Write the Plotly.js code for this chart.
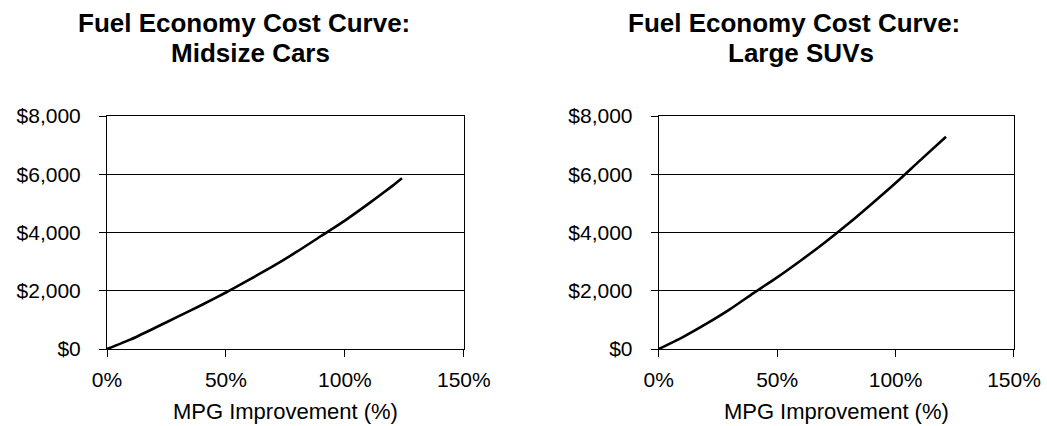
<!DOCTYPE html>
<html>
<head>
<meta charset="utf-8">
<script src="https://cdn.plot.ly/plotly-3.0.1.min.js"></script>
<style>html,body{margin:0;padding:0;background:#fff;}#chart{width:1047px;height:426px;}</style>
</head>
<body>
<div id="chart"></div>
<script>
// MPG improvement (%) and incremental cost ($)
var midsizeX = [0, 10, 20, 30, 40, 50, 60, 70, 80, 90, 100, 110, 120, 124];
var midsizeY = [0, 330, 720, 1120, 1520, 1940, 2390, 2850, 3350, 3880, 4410, 4990, 5600, 5860];
var suvX = [0, 10, 20, 30, 40, 50, 60, 70, 80, 90, 100, 110, 121.3];
var suvY = [0, 400, 860, 1360, 1920, 2460, 3040, 3650, 4300, 4990, 5700, 6450, 7290];
var xTicks = [0, 50, 100, 150];
var xTickLabels = ["0%", "50%", "100%", "150%"];
var yTicks = [0, 2000, 4000, 6000, 8000];
var yTickLabels = ["$0", "$2,000", "$4,000", "$6,000", "$8,000"];
var titleLine1 = "Fuel Economy Cost Curve:";
var titleLeft2 = "Midsize Cars";
var titleRight2 = "Large SUVs";
var xTitle = "MPG Improvement (%)";

var FONT = "Liberation Sans, Arial, sans-serif";

function xAxis(domain) {
  return {
    domain: domain, range: [0, 150], tickmode: "array", tickvals: xTicks, ticktext: xTickLabels,
    showgrid: false, zeroline: false, showline: true, linecolor: "#000", linewidth: 1,
    mirror: true, ticks: "outside", ticklen: 7, tickcolor: "#000", tickwidth: 1,
    ticklabelstandoff: 5,
    tickfont: {family: FONT, size: 21, color: "#000"},
    title: {text: xTitle, font: {family: FONT, size: 22, color: "#000"}, standoff: 13},
    fixedrange: true
  };
}
function yAxis(anchor) {
  return {
    anchor: anchor, range: [0, 8000], tickmode: "array", tickvals: yTicks, ticktext: yTickLabels,
    showgrid: true, gridcolor: "#000", gridwidth: 1, zeroline: false,
    showline: true, linecolor: "#000", linewidth: 1, mirror: true,
    ticks: "outside", ticklen: 7, tickcolor: "#000", tickwidth: 1,
    ticklabelstandoff: 14,
    tickfont: {family: FONT, size: 21, color: "#000"},
    fixedrange: true
  };
}

var lineStyle = {color: "#000", width: 2.6, shape: "spline", smoothing: 0.6};
var traces = [
  {x: midsizeX, y: midsizeY, type: "scatter", mode: "lines", xaxis: "x", yaxis: "y",
   line: lineStyle, hoverinfo: "skip"},
  {x: suvX, y: suvY, type: "scatter", mode: "lines", xaxis: "x2", yaxis: "y2",
   line: lineStyle, hoverinfo: "skip"}
];

function titleAnn(text, x, y) {
  return {text: text, xref: "paper", yref: "paper", x: x, y: y,
    xanchor: "center", yanchor: "middle", showarrow: false,
    font: {family: FONT, size: 26, color: "#000", weight: "bold"}};
}

var layout = {
  width: 1047, height: 426,
  margin: {l: 107, r: 32.5, t: 115.5, b: 77, pad: 0},
  paper_bgcolor: "#fff", plot_bgcolor: "#fff",
  showlegend: false,
  xaxis: xAxis([0, 0.3934]),
  yaxis: yAxis("x"),
  xaxis2: Object.assign(xAxis([0.6083, 1]), {anchor: "y2"}),
  yaxis2: yAxis("x2"),
  annotations: [
    titleAnn(titleLine1, 0.1510, 1.4004),
    titleAnn(titleLeft2, 0.1587, 1.2719),
    titleAnn(titleLine1, 0.7570, 1.4004),
    titleAnn(titleRight2, 0.7647, 1.2719)
  ]
};

Plotly.newPlot("chart", traces, layout, {displayModeBar: false, staticPlot: true});
</script>
</body>
</html>
